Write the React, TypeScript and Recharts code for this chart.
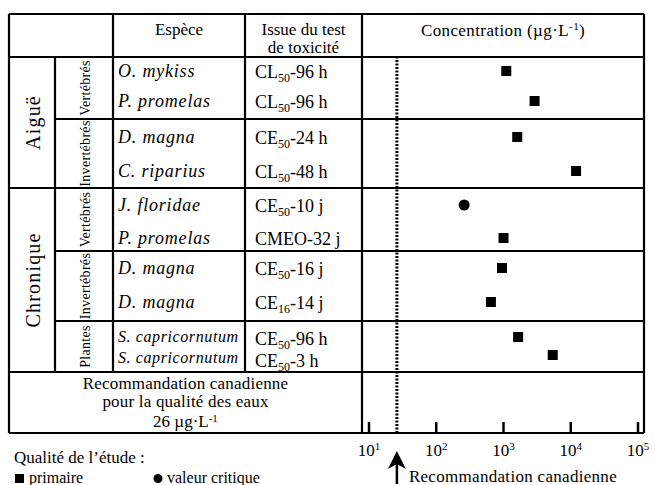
import React from 'react';
import { ScatterChart, Scatter, XAxis, YAxis, ReferenceLine, Customized } from 'recharts';

// ---------- data ----------
const SPECIES = [
  'O. mykiss', 'P. promelas', 'D. magna', 'C. riparius',
  'J. floridae', 'P. promelas', 'D. magna', 'D. magna',
  'S. capricornutum', 'S. capricornutum',
];
const TEST_PREFIX = ['CL', 'CL', 'CE', 'CL', 'CE', 'CMEO', 'CE', 'CE', 'CE', 'CE'];
const TEST_SUB = ['50', '50', '50', '50', '50', '', '50', '16', '50', '50'];
const TEST_SUFFIX = ['-96 h', '-96 h', '-24 h', '-48 h', '-10 j', '-32 j', '-16 j', '-14 j', '-96 h', '-3 h'];
const CONCENTRATION = [1100, 2900, 1600, 12000, 260, 1000, 950, 650, 1650, 5400];
const QUALITY = ['primaire', 'primaire', 'primaire', 'primaire', 'critique', 'primaire', 'primaire', 'primaire', 'primaire', 'primaire'];
const DURATIONS = ['Aiguë', 'Chronique'];
const GROUP_LABELS = ['Vertébrés', 'Invertébrés', 'Vertébrés', 'Invertébrés', 'Plantes'];
const X_TICKS = [10, 100, 1000, 10000, 100000];
const GUIDELINE = 26;

// ---------- layout (pixels) ----------
const FONT = "'Liberation Serif', 'Times New Roman', serif";
const LEFT = 9;
const RIGHT = 644;
const TOP = 14;
const HEAD_BOTTOM = 57;
const BODY_BOTTOM = 372;
const BOTTOM = 433;
const COLS = [9, 55, 113, 245, 362];
const GROUP_BOUNDS = [57, 119, 188, 251, 321, 372];
const DURATION_BOUNDS = [57, 188, 372];
const ROW_Y = [71, 101, 137, 171, 205, 238, 268, 302, 337, 355];
const SPECIES_BASE = [77, 107, 143, 177, 211, 244, 274, 308, 342, 363];
const TEST_BASE = [78, 108, 144, 178, 212, 245, 275, 309, 345, 367];
const LW = 2.2;

const data = SPECIES.map((s, i) => ({
  species: s,
  value: CONCENTRATION[i],
  row: ROW_Y[i],
  quality: QUALITY[i],
}));

const TableLayer = () => {
  const lines: any[] = [];
  lines.push(<line key="hTop" x1={LEFT} x2={RIGHT} y1={TOP} y2={TOP} />);
  lines.push(<line key="hHead" x1={LEFT} x2={RIGHT} y1={HEAD_BOTTOM} y2={HEAD_BOTTOM} />);
  GROUP_BOUNDS.slice(1, -1).forEach((y, i) => {
    const full = DURATION_BOUNDS.includes(y);
    lines.push(<line key={'g' + i} x1={full ? LEFT : COLS[1]} x2={RIGHT} y1={y} y2={y} />);
  });
  lines.push(<line key="hBody" x1={LEFT} x2={RIGHT} y1={BODY_BOTTOM} y2={BODY_BOTTOM} />);
  lines.push(<line key="hBot" x1={LEFT} x2={RIGHT} y1={BOTTOM} y2={BOTTOM} />);
  lines.push(<line key="vL" x1={LEFT} x2={LEFT} y1={TOP} y2={BOTTOM} />);
  lines.push(<line key="vR" x1={RIGHT} x2={RIGHT} y1={TOP} y2={BOTTOM} />);
  lines.push(<line key="v1" x1={COLS[1]} x2={COLS[1]} y1={HEAD_BOTTOM} y2={BODY_BOTTOM} />);
  lines.push(<line key="v2" x1={COLS[2]} x2={COLS[2]} y1={TOP} y2={BODY_BOTTOM} />);
  lines.push(<line key="v3" x1={COLS[3]} x2={COLS[3]} y1={TOP} y2={BODY_BOTTOM} />);
  lines.push(<line key="v4" x1={COLS[4]} x2={COLS[4]} y1={TOP} y2={BOTTOM} />);

  return (
    <g fontFamily={FONT} fill="#000">
      <g stroke="#000" strokeWidth={LW}>{lines}</g>
      {/* header */}
      <text x={(COLS[2] + COLS[3]) / 2} y={35} textAnchor="middle" fontSize={17} fontFamily={FONT}>Espèce</text>
      <text x={(COLS[3] + COLS[4]) / 2} y={35} textAnchor="middle" fontSize={17} fontFamily={FONT}>Issue du test</text>
      <text x={(COLS[3] + COLS[4]) / 2} y={53} textAnchor="middle" fontSize={17} fontFamily={FONT}>de toxicité</text>
      <text x={(COLS[4] + RIGHT) / 2} y={36} textAnchor="middle" fontSize={17} letterSpacing={0.4} fontFamily={FONT}>
        <tspan>Concentration (µg·L</tspan>
        <tspan dy={-6} fontSize={11}>-1</tspan>
        <tspan dy={6}>)</tspan>
      </text>
      {/* durations */}
      {DURATIONS.map((d, i) => {
        const cx = (COLS[0] + COLS[1]) / 2 + 1;
        const cy = (DURATION_BOUNDS[i] + DURATION_BOUNDS[i + 1]) / 2;
        return (
          <text key={d} x={cx} y={cy} transform={`rotate(-90 ${cx} ${cy})`} textAnchor="middle"
            dominantBaseline="central" fontSize={20} letterSpacing={1.2} fontFamily={FONT}>{d}</text>
        );
      })}
      {/* groups */}
      {GROUP_LABELS.map((g, i) => {
        const cx = (COLS[1] + COLS[2]) / 2 + 1;
        const cy = (GROUP_BOUNDS[i] + GROUP_BOUNDS[i + 1]) / 2;
        return (
          <text key={i} x={cx} y={cy} transform={`rotate(-90 ${cx} ${cy})`} textAnchor="middle"
            dominantBaseline="central" fontSize={14} letterSpacing={0.3} fontFamily={FONT}>{g}</text>
        );
      })}
      {/* species & tests */}
      {SPECIES.map((s, i) => (
        <text key={'s' + i} x={118} y={SPECIES_BASE[i]} fontSize={s.length > 12 ? 16 : 18}
          fontStyle="italic" letterSpacing={s.length > 12 ? 0.6 : 0.8} fontFamily={FONT}>{s}</text>
      ))}
      {TEST_PREFIX.map((p, i) => (
        <text key={'t' + i} x={255} y={TEST_BASE[i]} fontSize={18} fontFamily={FONT}>
          <tspan>{p}</tspan>
          {TEST_SUB[i] ? <tspan dy={4} fontSize={12}>{TEST_SUB[i]}</tspan> : null}
          <tspan dy={TEST_SUB[i] ? -4 : 0}>{TEST_SUFFIX[i]}</tspan>
        </text>
      ))}
      {/* guideline row */}
      <text x={(LEFT + COLS[4]) / 2} y={389} textAnchor="middle" fontSize={17} letterSpacing={0.2} fontFamily={FONT}>Recommandation canadienne</text>
      <text x={(LEFT + COLS[4]) / 2} y={407} textAnchor="middle" fontSize={17} letterSpacing={0.2} fontFamily={FONT}>pour la qualité des eaux</text>
      <text x={(LEFT + COLS[4]) / 2} y={427} textAnchor="middle" fontSize={17} fontFamily={FONT}>
        <tspan>{GUIDELINE} µg·L</tspan>
        <tspan dy={-5} fontSize={11}>-1</tspan>
      </text>
      {/* legend */}
      <text x={14} y={463} fontSize={17} fontFamily={FONT}>Qualité de l’étude :</text>
      <rect x={15} y={474} width={9} height={9} fill="#000" />
      <text x={29} y={483} fontSize={16} fontFamily={FONT}>primaire</text>
      <circle cx={158} cy={478.5} r={4.5} fill="#000" />
      <text x={167} y={483} fontSize={16} fontFamily={FONT}>valeur critique</text>
    </g>
  );
};

const AxisTick = (props: any) => {
  const { x, y, payload } = props;
  const exp = Math.round(Math.log10(payload.value));
  return (
    <g>
      <line x1={x} x2={x} y1={y - 11} y2={y} stroke="#000" strokeWidth={2.5} />
      <text x={x} y={y + 23} textAnchor="middle" fontSize={17} fill="#000" fontFamily={FONT}>
        <tspan>10</tspan>
        <tspan dy={-6} fontSize={11}>{exp}</tspan>
      </text>
    </g>
  );
};

const GuideArrow = (props: any) => {
  const { viewBox } = props;
  const x = viewBox ? viewBox.x : 398;
  return (
    <g>
      <line x1={x} x2={x} y1={462} y2={484} stroke="#000" strokeWidth={2.5} />
      <polygon points={`${x},451 ${x - 9},469 ${x},464 ${x + 9},469`} fill="#000" />
      <text x={x + 12} y={482} fontSize={17} fill="#000" fontFamily={FONT} letterSpacing={0.3}>Recommandation canadienne</text>
    </g>
  );
};

const MarkerShape = (props: any) => {
  const { cx, cy, payload } = props;
  if (payload.quality === 'critique') {
    return <circle cx={cx} cy={cy} r={5.5} fill="#000" />;
  }
  return <rect x={cx - 5} y={cy - 5} width={10} height={10} fill="#000" />;
};

export default function App() {
  return (
    <div style={{ position: 'absolute', left: 0, top: 0, width: 655, height: 485, background: '#fff' }}>
      <ScatterChart width={655} height={485} margin={{ top: HEAD_BOTTOM, right: 655 - RIGHT, bottom: 22, left: COLS[4] }}>
        <Customized component={TableLayer} />
        <XAxis
          dataKey="value"
          type="number"
          scale="log"
          domain={[7.87, 122800]}
          allowDataOverflow
          ticks={X_TICKS}
          height={30}
          axisLine={false}
          tickLine={false}
          tickSize={0}
          tickMargin={0}
          tick={<AxisTick />}
          interval={0}
        />
        <YAxis dataKey="row" type="number" domain={[HEAD_BOTTOM, BOTTOM]} reversed hide width={0} />
        <ReferenceLine x={GUIDELINE} stroke="#000" strokeWidth={3} strokeDasharray="2 1.5" label={<GuideArrow />} />
        <Scatter data={data} isAnimationActive={false} shape={<MarkerShape />} />
      </ScatterChart>
    </div>
  );
}
